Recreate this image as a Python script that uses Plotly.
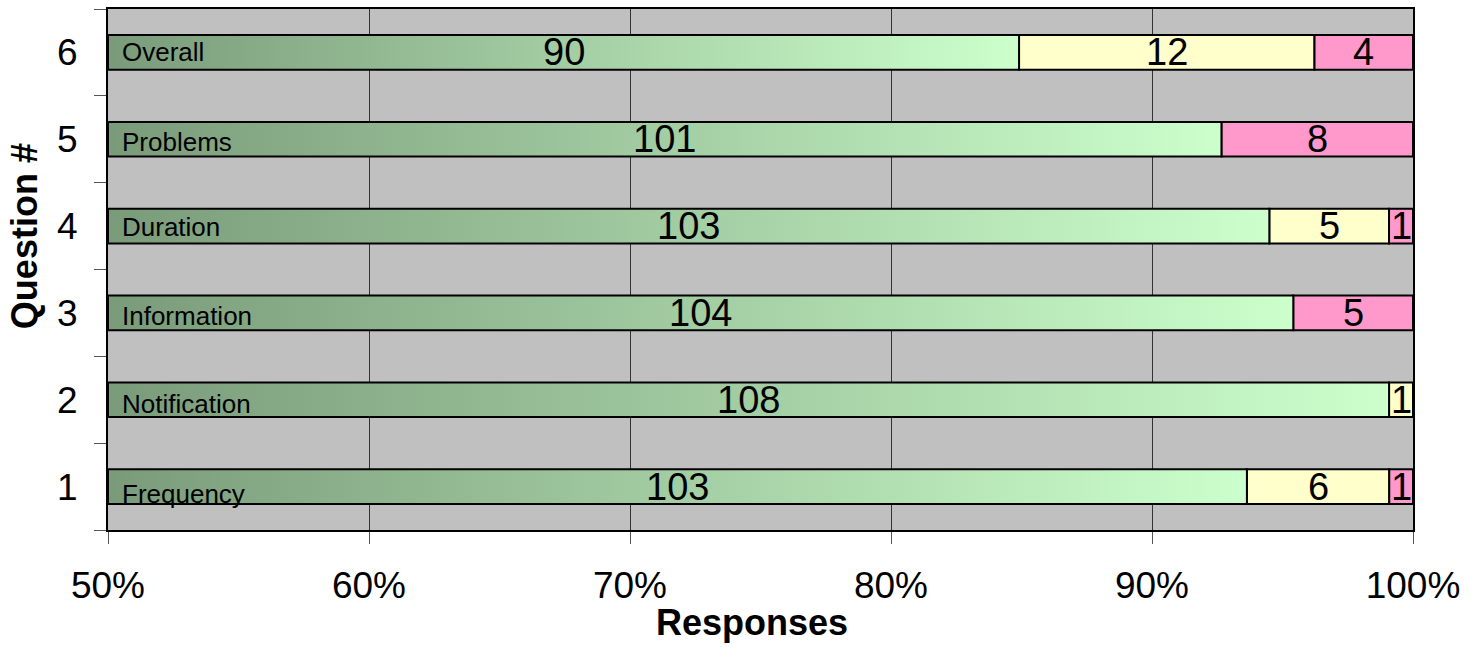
import plotly.graph_objects as go

# ---- data ----
questions = [1, 2, 3, 4, 5, 6]
topics = ["Frequency", "Notification", "Information", "Duration", "Problems", "Overall"]
positive = [103, 108, 104, 103, 101, 90]
neutral = [6, 1, 0, 5, 0, 12]
negative = [1, 0, 5, 1, 8, 4]
x_ticks = [50, 60, 70, 80, 90, 100]
x_tick_labels = ["50%", "60%", "70%", "80%", "90%", "100%"]

# ---- style ----
FONT = "Liberation Sans, Arial, sans-serif"
X_MIN, X_MAX = 50, 100
BAR_HALF = 0.2
DARK_GREEN = "#7a9b7a"
LIGHT_GREEN = "#ccffcc"
YELLOW = "#ffffcc"
PINK = "#ff99cc"
label_yshift = [-7, -4, -3, -1, -3, 0]

W, H = 1481, 647
ML, MR, MT, MB = 108, 68, 7, 117

totals = [p + n + g for p, n, g in zip(positive, neutral, negative)]
pos_pct = [p / t * 100 for p, t in zip(positive, totals)]
neu_pct = [n / t * 100 for n, t in zip(neutral, totals)]
neg_pct = [g / t * 100 for g, t in zip(negative, totals)]
neg_base = [a + b for a, b in zip(pos_pct, neu_pct)]

fig = go.Figure()

# green gradient segments (visible part from axis start to end of segment)
for q, end in zip(questions, pos_pct):
    fig.add_trace(go.Scatter(
        x=[X_MIN, end, end, X_MIN, X_MIN],
        y=[q - BAR_HALF, q - BAR_HALF, q + BAR_HALF, q + BAR_HALF, q - BAR_HALF],
        mode="lines", fill="toself",
        fillgradient=dict(type="horizontal",
                          colorscale=[[0, DARK_GREEN], [1, LIGHT_GREEN]]),
        line=dict(color="black", width=2),
        hoverinfo="skip", showlegend=False,
    ))

fig.add_trace(go.Bar(
    y=questions, x=[v if v > 0 else None for v in neu_pct], base=pos_pct,
    orientation="h", width=2 * BAR_HALF,
    marker=dict(color=YELLOW, line=dict(color="black", width=2)),
    showlegend=False,
))
fig.add_trace(go.Bar(
    y=questions, x=[v if v > 0 else None for v in neg_pct], base=neg_base,
    orientation="h", width=2 * BAR_HALF,
    marker=dict(color=PINK, line=dict(color="black", width=2)),
    showlegend=False,
))

annotations = []
for i, q in enumerate(questions):
    segs = [
        (positive[i], X_MIN, pos_pct[i]),
        (neutral[i], pos_pct[i], neg_base[i]),
        (negative[i], neg_base[i], neg_base[i] + neg_pct[i]),
    ]
    for val, s, e in segs:
        if val > 0:
            annotations.append(dict(
                x=(max(s, X_MIN) + e) / 2, y=q, xref="x", yref="y",
                text=str(val), showarrow=False,
                font=dict(family=FONT, size=38, color="black"),
                xanchor="center", yanchor="middle",
            ))
    annotations.append(dict(
        x=X_MIN, y=q, xref="x", yref="y", xshift=12, yshift=label_yshift[i],
        text=topics[i], showarrow=False,
        font=dict(family=FONT, size=26, color="black"),
        xanchor="left", yanchor="middle",
    ))

annotations.append(dict(
    x=(752 - ML) / (W - ML - MR), y=(MT + (H - MT - MB) - 623) / (H - MT - MB),
    xref="paper", yref="paper", text="<b>Responses</b>", showarrow=False,
    font=dict(family=FONT, size=36, color="black"),
    xanchor="center", yanchor="middle",
))
annotations.append(dict(
    x=(24 - ML) / (W - ML - MR), y=(MT + (H - MT - MB) - 235) / (H - MT - MB),
    xref="paper", yref="paper", text="<b>Question #</b>", showarrow=False,
    textangle=-90,
    font=dict(family=FONT, size=36, color="black"),
    xanchor="center", yanchor="middle",
))

fig.update_layout(
    width=W, height=H,
    margin=dict(l=ML, r=MR, t=MT, b=MB, pad=0),
    paper_bgcolor="white", plot_bgcolor="#c0c0c0",
    barmode="overlay", showlegend=False,
    font=dict(family=FONT, color="black"),
    annotations=annotations,
    xaxis=dict(
        range=[X_MIN, X_MAX], tickmode="array", tickvals=x_ticks,
        ticktext=x_tick_labels, ticks="outside", ticklen=12, tickwidth=1,
        tickcolor="#555555", ticklabelstandoff=10,
        tickfont=dict(family=FONT, size=37, color="black"),
        showgrid=True, gridcolor="#333333", gridwidth=1,
        showline=True, linecolor="black", linewidth=2, mirror=True,
        zeroline=False, fixedrange=True,
    ),
    yaxis=dict(
        range=[0.5, 6.5], tickmode="array", tickvals=questions,
        ticktext=[str(q) for q in questions], ticks="",
        ticklabelstandoff=21,
        tickfont=dict(family=FONT, size=37, color="black"),
        minor=dict(tickmode="array", tickvals=[q - 0.5 for q in questions] + [questions[-1] + 0.5],
                   ticks="outside", ticklen=12, tickwidth=1, tickcolor="#555555",
                   showgrid=False),
        showgrid=False, showline=True, linecolor="black", linewidth=2, mirror=True,
        zeroline=False, fixedrange=True,
    ),
)

fig.write_html("out.html")
